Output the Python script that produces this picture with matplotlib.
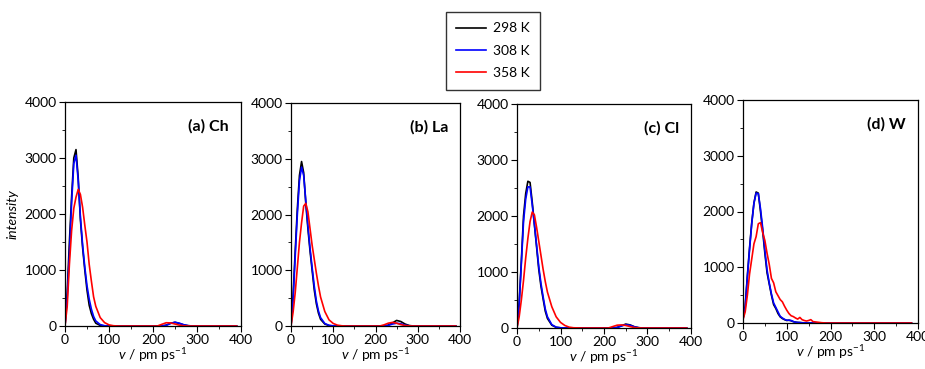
import matplotlib
matplotlib.use("Agg")
import matplotlib.pyplot as plt
from matplotlib.ticker import MultipleLocator

plt.rcParams['font.family'] = ['Lato', 'DejaVu Sans']
plt.rcParams['mathtext.fontset'] = 'custom'
plt.rcParams['mathtext.rm'] = 'Lato'
plt.rcParams['mathtext.it'] = 'Lato:italic'

temps = ['298 K', '308 K', '358 K']
colors = ['black', 'blue', 'red']
panel_titles = ['(a) Ch', '(b) La', '(c) Cl', '(d) W']

# velocity grid for the smooth panels (pm/ps)
v = [0, 5, 10, 15, 20, 25, 30, 35, 40, 45, 50, 55, 60, 65, 70,
     80, 90, 100, 110, 120, 130, 150, 200,
     210, 220, 230, 240, 250, 260, 270, 280, 290, 300, 390]

# (a) Ch
ch_298 = [0, 600, 1500, 2300, 3000, 3150, 2650, 1900, 1400, 1000, 640, 370, 220, 120, 50,
          10, 2, 0, 0, 0, 0, 0, 0,
          0, 0, 15, 50, 65, 45, 20, 5, 0, 0, 0]
ch_308 = [0, 500, 1300, 2200, 2900, 3050, 2600, 1950, 1450, 1050, 720, 480, 300, 170, 90,
          25, 5, 0, 0, 0, 0, 0, 0,
          0, 0, 12, 45, 68, 50, 22, 6, 0, 0, 0]
ch_358 = [0, 350, 1100, 1700, 2100, 2300, 2440, 2350, 2120, 1800, 1500, 1100, 800, 520, 350,
          150, 60, 20, 5, 0, 0, 0, 0,
          0, 30, 58, 55, 35, 15, 4, 0, 0, 0, 0]

# (b) La
la_298 = [0, 550, 1350, 2100, 2700, 2950, 2750, 2200, 1750, 1350, 1000, 650, 400, 230, 120,
          35, 8, 0, 0, 0, 0, 0, 0,
          0, 0, 15, 55, 100, 80, 35, 8, 0, 0, 0]
la_308 = [0, 480, 1250, 2000, 2600, 2850, 2700, 2250, 1800, 1400, 1050, 720, 450, 270, 150,
          45, 12, 3, 0, 0, 0, 0, 0,
          0, 0, 10, 35, 50, 40, 15, 4, 0, 0, 0]
la_358 = [0, 250, 600, 1050, 1500, 1850, 2150, 2200, 2050, 1750, 1450, 1200, 950, 720, 520,
          260, 110, 45, 15, 4, 0, 0, 0,
          0, 20, 50, 65, 50, 25, 8, 2, 0, 0, 0]

# (c) Cl
cl_298 = [0, 450, 1200, 2000, 2400, 2620, 2600, 2250, 1850, 1450, 1050, 750, 520, 300, 170,
          50, 12, 3, 0, 0, 0, 0, 0,
          0, 0, 10, 40, 70, 55, 22, 5, 0, 0, 0]
cl_308 = [0, 420, 1150, 1900, 2300, 2520, 2520, 2200, 1850, 1480, 1100, 800, 560, 340, 200,
          60, 15, 4, 0, 0, 0, 0, 0,
          0, 0, 8, 35, 60, 48, 20, 5, 0, 0, 0]
cl_358 = [0, 200, 500, 850, 1250, 1600, 1900, 2070, 2020, 1800, 1550, 1300, 1050, 830, 640,
          380, 200, 100, 45, 15, 4, 0, 0,
          0, 25, 50, 55, 45, 25, 8, 2, 0, 0, 0]

# (d) W - noisier histogram
v_w = [0, 5, 10, 15, 20, 25, 30, 35, 40, 45, 50, 55, 60, 65, 70, 75, 80, 85, 90, 95, 100,
       105, 110, 115, 120, 125, 130, 135, 140, 145, 150, 155, 160, 170, 180, 190, 250, 385]
w_298 = [80, 300, 850, 1350, 1800, 2150, 2350, 2330, 2000, 1650, 1250, 900, 700, 500, 330, 260, 170, 110, 80, 60, 45,
         50, 40, 25, 15, 10, 8, 4, 3, 0, 0, 0, 0, 0, 0, 0, 0, 0]
w_308 = [70, 280, 820, 1320, 1780, 2150, 2330, 2320, 2050, 1700, 1300, 950, 720, 520, 360, 280, 200, 120, 90, 65, 50,
         50, 45, 25, 15, 10, 8, 4, 3, 0, 0, 0, 0, 0, 0, 0, 0, 0]
w_358 = [60, 200, 500, 880, 1150, 1420, 1550, 1780, 1800, 1620, 1480, 1250, 1050, 800, 720, 560, 490, 420, 380, 300, 230,
         170, 130, 115, 90, 70, 100, 60, 45, 35, 45, 60, 25, 15, 5, 0, 0, 0]

panels = [
    (v, [ch_298, ch_308, ch_358]),
    (v, [la_298, la_308, la_358]),
    (v, [cl_298, cl_308, cl_358]),
    (v_w, [w_298, w_308, w_358]),
]

# axes boxes in pixels (left, top, right, bottom)
boxes = [(65, 102, 241, 326), (291, 103, 460, 326), (517, 104, 691, 328), (743, 100, 918, 323)]

W, H = 925, 369
fig = plt.figure(figsize=(W / 100, H / 100), dpi=100)

lines = []
for i, ((x, series), (l, t, r, b)) in enumerate(zip(panels, boxes)):
    ax = fig.add_axes([l / W, 1 - b / H, (r - l) / W, (b - t) / H])
    for ys, c, lab in zip(series, colors, temps):
        ln, = ax.plot(x, ys, color=c, lw=1.2, label=lab)
        if i == 0:
            lines.append(ln)
    ax.set_xlim(0, 400)
    ax.set_ylim(0, 4000)
    ax.xaxis.set_major_locator(MultipleLocator(100))
    ax.xaxis.set_minor_locator(MultipleLocator(50))
    ax.yaxis.set_major_locator(MultipleLocator(1000))
    ax.yaxis.set_minor_locator(MultipleLocator(500))
    ax.tick_params(which='major', direction='out', length=4, labelsize=10, pad=2)
    ax.tick_params(which='minor', direction='out', length=2.5)
    for s in ax.spines.values():
        s.set_linewidth(0.9)
    ax.set_xlabel(r'$\it{v}$ / pm ps$^{-1}$', fontsize=10, labelpad=0)
    if i == 0:
        ax.set_ylabel('intensity', fontsize=10, style='italic', labelpad=4)
    ax.text(0.93, 0.89, panel_titles[i], transform=ax.transAxes, ha='right', va='center',
            fontsize=11.5, fontweight='bold')

fig.legend(handles=lines, labels=temps, loc='upper left',
           bbox_to_anchor=(446 / W, 1 - 12 / H), borderaxespad=0, frameon=True, fancybox=False,
           edgecolor='black', fontsize=10, handlelength=2.1, handletextpad=0.5,
           borderpad=0.75, labelspacing=0.75)

fig.savefig('out.png', dpi=100)
